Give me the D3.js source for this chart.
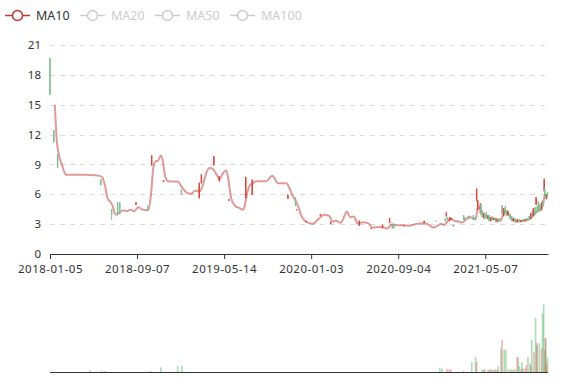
<!DOCTYPE html>
<html><head><meta charset="utf-8">
<script src="https://cdn.jsdelivr.net/npm/d3@7/dist/d3.min.js"></script>
<style>
html,body{margin:0;padding:0;background:#fff;}
svg{display:block;font-family:"Noto Sans",sans-serif;}
</style></head>
<body><svg id="chart" width="577" height="380"></svg>
<script>
// ---------- data ----------
const nCategories = 922;          // trading days on the category axis
const labelInterval = 161;        // categories between x labels
const xTickLabels = ["2018-01-05","2018-09-07","2019-05-14","2020-01-03","2020-09-04","2021-05-07"];
const yTicks = [0,3,6,9,12,15,18,21];
const legendNames = ["MA10","MA20","MA50","MA100"];
const legendActive = [true,false,false,false];

// MA10: [category index, value]
const ma10 = [
 [9,15.0],[12,11.8],[17,9.8],[22,9.0],[26,8.3],[30,7.97],[74,7.95],[92,7.85],[97,7.7],
 [102,6.8],[107,5.5],[111,5.3],[116,4.8],[120,4.1],[123,3.95],[129,4.2],[136,4.4],[142,4.3],
 [150,4.45],[156,4.3],[163,4.7],[170,4.5],[176,4.4],[182,4.45],[187,6.1],[191,8.65],[195,9.3],
 [200,9.4],[205,9.9],[208,9.5],[213,7.8],[219,7.3],[237,7.25],[243,6.8],[252,6.2],[261,6.05],
 [268,6.35],[277,6.3],[283,6.97],[289,8.15],[295,8.65],[301,8.55],[308,7.98],[314,7.54],
 [320,8.15],[326,8.4],[331,7.1],[335,5.6],[342,4.85],[351,4.6],[357,4.45],[360,4.8],[364,5.95],
 [369,6.85],[375,7.1],[381,7.3],[400,7.3],[411,7.87],[422,7.1],[437,7.1],[443,6.6],[449,5.8],
 [454,5.4],[460,4.6],[465,3.8],[475,3.2],[486,3.03],[495,3.43],[507,3.94],[516,3.84],[523,3.26],
 [529,3.33],[538,3.15],[542,3.5],[549,4.27],[555,3.7],[562,3.77],[569,3.05],[578,3.2],[588,3.1],
 [597,2.65],[606,2.72],[615,2.7],[624,2.55],[632,3.0],[643,2.88],[655,2.86],[666,2.85],[679,3.05],
 [691,3.08],[703,2.85],[708,2.66],[714,2.75],[723,3.03],[729,2.93],[735,3.26],[741,3.6],[747,3.36],
 [756,3.26],[762,3.16],[769,3.43],[775,3.77],[781,3.6],[787,3.5],[792,4.78],[797,4.44],[803,3.94],
 [809,3.7],[818,3.6],[827,3.5],[833,3.33],[838,3.94],[843,4.34],[849,3.94],[855,3.43],[864,3.26],
 [873,3.33],[883,3.43],[889,3.6],[895,3.94],[901,4.27],[907,4.44],[912,4.95],[915,5.96],[920,5.8]
];

// candles: [category index, open, close, low, high]
const candles = [
 [0,19.7,16.0,16.0,19.7],[7,12.45,11.2,11.2,12.45],[14,10.0,8.65,8.65,10.0],[94,7.54,6.9,6.9,7.54],
 [114,4.5,3.95,3.4,4.5],[125,5.2,3.95,3.95,5.2],[129,5.2,4.0,4.0,5.2],[159,4.95,5.2,4.95,5.2],
 [181,4.85,4.37,4.37,4.85],[188,8.9,9.9,8.9,9.9],[210,7.24,7.4,7.24,7.4],[243,6.46,5.96,5.96,6.46],
 [276,5.6,7.15,5.6,7.15],[280,7.1,8.0,7.1,8.0],[303,8.9,9.83,8.9,9.83],[313,7.3,7.8,7.3,7.8],
 [331,5.35,5.5,5.35,5.5],[362,5.62,7.75,5.62,7.75],[374,5.96,7.47,5.96,7.47],[440,5.55,5.96,5.55,5.96],
 [454,5.7,4.85,4.85,5.7],[456,4.4,4.5,4.4,4.5],[473,3.2,3.3,3.2,3.3],[500,3.85,4.0,3.85,4.0],
 [519,3.0,3.26,3.0,3.26],[572,2.83,3.36,2.83,3.36],[594,2.5,2.6,2.5,2.6],[615,2.6,2.93,2.6,2.93],
 [628,3.1,3.6,3.1,3.6],[633,2.93,2.55,2.55,2.93],[636,2.9,2.6,2.6,2.9],[641,3.0,2.95,2.95,3.0],
 [655,2.85,2.9,2.85,2.9],[692,3.1,3.33,3.1,3.33],[714,3.35,3.3,3.3,3.35],
 [731,3.6,3.3,3.3,3.6],[733,3.77,4.17,3.77,4.17],[735,3.7,3.4,3.4,3.7],[739,3.3,3.7,3.3,3.7],
 [742,3.4,3.6,3.4,3.6],[746,2.8,2.9,2.8,2.9],[753,3.3,3.2,3.2,3.3],[765,3.9,3.4,3.4,3.9],
 [767,3.7,3.4,3.4,3.7],[775,3.8,3.5,3.5,3.8],[783,3.9,3.4,3.4,3.9],[786,3.7,3.5,3.5,3.7],
 [789,5.4,6.55,5.3,6.6],[791,4.4,5.4,4.4,5.4],[796,4.1,5.1,4.1,5.1],[797,5.0,3.94,3.94,5.0],
 [799,4.3,3.7,3.7,4.3],[802,3.6,4.1,3.6,4.1],[804,4.0,3.5,3.5,4.0],[807,4.2,3.6,3.6,4.2],
 [810,3.5,3.9,3.5,3.9],[812,3.9,3.3,3.3,3.9],[815,3.3,3.7,3.3,3.7],[818,3.8,3.4,3.4,3.8],
 [821,3.4,3.6,3.4,3.6],[824,3.6,3.2,3.2,3.6],[827,3.2,3.5,3.2,3.5],[829,3.5,3.3,3.3,3.5],
 [832,3.6,3.3,3.3,3.6],[836,4.9,4.0,4.0,4.9],[839,3.8,4.6,3.8,4.6],[842,4.8,4.0,4.0,4.8],
 [845,4.4,3.8,3.8,4.4],[847,3.9,4.3,3.9,4.3],[851,4.0,3.5,3.5,4.0],[854,3.8,3.3,3.3,3.8],
 [857,3.3,3.6,3.3,3.6],[860,3.6,3.2,3.2,3.6],[864,3.2,3.5,3.2,3.5],[868,3.5,3.2,3.2,3.5],
 [871,3.2,3.4,3.2,3.4],[875,3.5,3.25,3.25,3.5],[879,3.3,3.5,3.3,3.5],[882,3.6,3.3,3.3,3.6],
 [886,3.8,3.4,3.4,3.8],[889,3.5,4.1,3.5,4.1],[892,4.3,3.7,3.7,4.3],[894,3.8,4.6,3.8,4.6],
 [897,4.7,4.0,4.0,4.7],[899,4.95,5.7,4.95,5.7],[901,4.8,4.2,4.2,4.8],[903,5.3,4.3,4.3,5.3],
 [906,5.0,4.3,4.3,5.0],[909,4.4,5.2,4.4,5.2],[911,5.4,4.8,4.8,5.4],[914,6.3,7.5,6.3,7.6],
 [915,6.6,5.6,5.6,6.6],[918,5.5,6.0,5.5,6.0],[920,6.2,5.7,5.7,6.2]
];

// volume: [category index, volume]
const volumeUp = [
 [734,4],[738,3],[741,4],[789,14],[802,3],[810,3],[815,4],[821,3],[827,3],[836,45],[847,4],
 [857,3],[864,21],[871,4],[879,5],[881,10],[889,8],[895,28],[900,41],[909,33],[916,47],[918,12]
];
const volumeDown = [
 [74,2.8],[96,1.4],[102,1.4],[186,1.4],[205,6.5],[236,8.3],[244,8.3],[721,6],[725,5],[765,2],
 [780,14],[787,21],[799,3],[804,4],[812,3],[818,3],[824,4],[829,8],[834,33],[840,31],[843,31],
 [851,4],[854,3],[860,4],[866,20],[868,8],[873,14],[875,5],[884,21],[888,12],[891,45],[898,75],
 [901,37],[905,40],[911,81],[913,94],[915,30],[917,47],[920,20]
];

// ---------- drawing ----------
const svg = d3.select("#chart");
const upColor = "#d9463c", downColor = "#7fc095", maColor = "#c23531";

const x = d3.scaleLinear().domain([0, nCategories - 1]).range([50, 548]);
const y = d3.scaleLinear().domain([0, 21]).range([254, 45]);
const yVol = d3.scaleLinear().domain([0, 100]).range([372, 300]);

// grid lines
svg.append("g").selectAll("line").data(yTicks.filter(d => d > 0)).join("line")
  .attr("x1", x.range()[0]).attr("x2", x.range()[1])
  .attr("y1", d => Math.round(y(d)) + 0.5).attr("y2", d => Math.round(y(d)) + 0.5)
  .attr("stroke", "#dcdcdc").attr("stroke-dasharray", "5,5");

// y axis labels
const yAxis = svg.append("g").attr("transform", `translate(${x.range()[0]},0)`)
  .call(d3.axisLeft(y).tickValues(yTicks).tickSize(0).tickPadding(9));
yAxis.select(".domain").remove();
yAxis.selectAll("text").attr("fill", "#333").style("font-size", "11.5px").style("font-family", '"Noto Sans",sans-serif');

// MA10 line
svg.append("path").datum(ma10)
  .attr("d", d3.line().x(d => x(d[0])).y(d => y(d[1])).curve(d3.curveMonotoneX))
  .attr("fill", "none").attr("stroke", maColor).attr("stroke-opacity", 0.5).attr("stroke-width", 2);

// candles
const cg = svg.append("g").selectAll("g").data(candles).join("g");
cg.append("line")
  .attr("x1", d => x(d[0])).attr("x2", d => x(d[0]))
  .attr("y1", d => y(d[4])).attr("y2", d => y(d[3]))
  .attr("stroke", d => d[2] >= d[1] ? upColor : downColor).attr("stroke-width", 1);
cg.append("rect")
  .attr("x", d => x(d[0]) - 0.7).attr("width", 1.4)
  .attr("y", d => y(Math.max(d[1], d[2])))
  .attr("height", d => Math.max(1, Math.abs(y(d[1]) - y(d[2]))))
  .attr("fill", d => d[2] >= d[1] ? upColor : downColor);

// x axis
const xAxis = svg.append("g").attr("transform", `translate(0,${y(0)})`)
  .call(d3.axisBottom(x).tickValues(xTickLabels.map((_, i) => i * labelInterval))
    .tickFormat((d, i) => xTickLabels[i]).tickSize(5).tickSizeOuter(0).tickPadding(6));
xAxis.select(".domain").attr("stroke", "#333");
xAxis.selectAll(".tick line").attr("stroke", "#333");
xAxis.selectAll("text").attr("fill", "#333").style("font-size", "11.5px")
  .style("font-family", '"Noto Sans",sans-serif').style("letter-spacing", "0.5px");

// volume bars
svg.append("g").selectAll("rect").data(volumeDown).join("rect")
  .attr("x", d => x(d[0]) - 0.8).attr("width", 1.6)
  .attr("y", d => yVol(d[1])).attr("height", d => yVol(0) - yVol(d[1]))
  .attr("fill", "#47b262").attr("fill-opacity", 0.45);
svg.append("g").selectAll("rect").data(volumeUp).join("rect")
  .attr("x", d => x(d[0]) - 0.8).attr("width", 1.6)
  .attr("y", d => yVol(d[1])).attr("height", d => yVol(0) - yVol(d[1]))
  .attr("fill", "#eb5454").attr("fill-opacity", 0.45);
svg.append("line").attr("x1", x.range()[0]).attr("x2", x.range()[1])
  .attr("y1", yVol(0) + 0.5).attr("y2", yVol(0) + 0.5).attr("stroke", "#333");

// legend
const lg = svg.append("g").selectAll("g").data(legendNames).join("g")
  .attr("transform", (d, i) => `translate(${5 + i * 75},15.5)`);
lg.append("line").attr("x1", 0).attr("x2", 25).attr("y1", 0).attr("y2", 0)
  .attr("stroke", (d, i) => legendActive[i] ? maColor : "#ccc").attr("stroke-width", 1.5);
lg.append("circle").attr("cx", 12.5).attr("cy", 0).attr("r", 5)
  .attr("fill", "#fff").attr("stroke", (d, i) => legendActive[i] ? maColor : "#ccc").attr("stroke-width", 1.5);
lg.append("text").attr("x", 31).attr("y", 0).attr("dy", "0.35em").text(d => d)
  .attr("fill", (d, i) => legendActive[i] ? "#333" : "#ccc").style("font-size", "12.5px");
</script></body></html>
